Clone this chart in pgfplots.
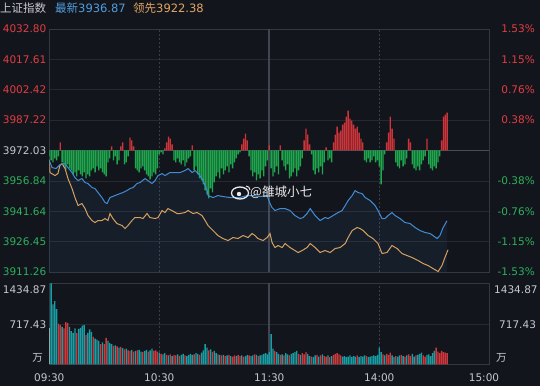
\documentclass[border=0pt]{standalone}
\usepackage{pgfplots}
\pgfplotsset{compat=1.18}
\usepackage{pgfplotstable}
\usepackage{fontspec}
\setmainfont{DejaVu Sans}
\newfontfamily\cjk{Noto Sans CJK SC}
\definecolor{bg}{RGB}{19,21,28}
\definecolor{gridc}{RGB}{38,41,50}
\definecolor{framec}{RGB}{52,56,66}
\definecolor{basec}{RGB}{72,76,86}
\definecolor{vdash}{RGB}{58,62,74}
\definecolor{vsolid}{RGB}{64,69,82}
\definecolor{txtred}{RGB}{226,62,66}
\definecolor{txtgreen}{RGB}{44,176,92}
\definecolor{txtgray}{RGB}{200,200,204}
\definecolor{lineblue}{RGB}{66,140,212}
\definecolor{lineorange}{RGB}{214,160,96}
\definecolor{barred}{RGB}{206,52,58}
\definecolor{bargreen}{RGB}{30,168,78}
\definecolor{volteal}{RGB}{24,158,164}
\definecolor{volred}{RGB}{208,56,60}
\definecolor{volwhite}{RGB}{200,225,228}
\definecolor{hdrblue}{RGB}{78,158,224}
\definecolor{hdrorange}{RGB}{226,166,100}
\newcommand\lab{\fontsize{10.5bp}{12bp}\selectfont}

\pgfplotstableread{
m p
0 3967.0
1.5 3963.5
3.7 3963.0
5.8 3965.0
8.6 3965.5
10.2 3963.5
12.4 3961.0
14.0 3958.5
15.7 3957.0
17.8 3958.0
19.5 3956.0
21.1 3955.5
23.3 3953.5
24.9 3953.0
26.6 3951.0
28.7 3948.5
30.4 3946.0
31.5 3945.5
33.1 3948.5
35.8 3949.5
38.6 3950.5
40.2 3951.0
42.4 3952.0
44.0 3953.0
45.7 3953.5
47.8 3955.5
49.5 3956.0
52.2 3958.0
53.8 3957.0
56.0 3955.5
57.7 3957.0
59.3 3959.5
61.5 3960.5
63.1 3959.5
65.8 3961.0
68.6 3961.0
71.3 3961.0
74.0 3962.0
75.7 3963.0
77.9 3961.0
79.5 3962.0
81.2 3960.5
83.3 3958.0
85.0 3954.5
86.1 3952.0
86.6 3949.5
89.3 3948.5
92.0 3949.5
94.7 3949.0
98.6 3948.5
104.0 3948.5
107.8 3949.5
111.1 3949.5
114.9 3949.0
118.8 3949.5
120.4 3945.5
121.5 3943.5
123.1 3942.0
125.9 3943.0
128.6 3943.0
131.3 3942.0
134.0 3939.5
136.8 3938.0
138.4 3938.5
140.6 3940.5
142.3 3943.0
145.0 3939.5
147.7 3937.0
150.4 3938.5
152.1 3938.0
154.8 3939.5
157.5 3941.0
159.7 3942.0
161.4 3944.5
163.0 3947.0
165.2 3949.5
166.8 3952.0
168.4 3951.0
170.6 3950.5
172.3 3948.5
175.0 3947.0
177.7 3944.5
179.3 3942.0
181.5 3938.0
183.1 3938.0
184.8 3939.5
186.9 3941.0
188.6 3939.5
191.3 3938.0
194.0 3936.0
196.8 3935.5
199.5 3933.5
202.2 3932.0
205.0 3931.0
207.7 3930.5
209.3 3929.5
211.5 3928.0
213.1 3929.5
214.8 3933.5
216.9 3936.87
}\bluetab

\pgfplotstableread{
m p
0 3967.5
0.4 3961.0
3.1 3959.5
4.7 3960.5
5.8 3964.5
6.9 3965.5
8.6 3963.0
10.2 3958.0
12.4 3953.0
14.0 3948.5
15.7 3944.5
17.8 3945.5
19.5 3943.0
21.1 3939.5
23.3 3937.0
24.9 3936.0
26.6 3937.0
28.7 3937.0
30.4 3938.0
32.0 3937.0
33.1 3940.5
34.7 3938.0
36.9 3935.5
39.7 3934.5
41.3 3933.0
42.9 3934.5
45.1 3937.0
46.7 3938.5
49.5 3938.5
51.1 3938.0
53.3 3940.5
54.9 3938.5
57.7 3938.0
59.3 3938.5
61.5 3942.0
63.1 3941.0
64.7 3943.0
66.9 3942.0
69.7 3940.5
71.3 3940.5
74.0 3941.0
75.7 3942.0
78.4 3940.5
80.6 3941.0
83.3 3939.5
85.0 3937.0
86.6 3934.5
89.3 3932.0
92.0 3929.5
94.7 3928.0
97.5 3927.0
100.2 3928.5
102.9 3928.0
105.7 3929.5
108.4 3928.5
110.6 3930.5
112.2 3929.5
113.8 3928.0
116.6 3927.0
118.8 3928.5
120.4 3930.5
121.5 3926.0
123.1 3923.5
124.8 3924.5
127.0 3923.5
128.6 3925.5
131.3 3923.5
134.0 3922.0
135.7 3921.0
137.9 3922.0
140.6 3923.5
142.3 3925.5
145.0 3923.5
147.7 3921.0
150.4 3922.0
153.2 3921.0
155.9 3923.0
158.6 3923.5
161.4 3925.5
163.0 3928.5
165.2 3932.0
167.9 3933.5
169.5 3933.0
171.2 3932.0
173.9 3929.5
176.6 3928.0
179.3 3925.5
181.5 3920.5
184.2 3921.0
186.9 3924.5
189.7 3923.0
192.4 3920.5
195.1 3919.5
197.9 3918.5
201.2 3917.0
203.9 3915.5
206.6 3914.5
209.3 3913.0
212.1 3911.5
214.2 3914.5
215.8 3918.5
217.5 3922.38
}\orangetab

\pgfplotstableread{
m v
0 -3
1 -5
2 -6
3 -4
4 -5
5 -3
6 4
7 -6
8 -8
9 -10
10 -7
11 -9
12 -10
13 -12
14 -11
15 -13
16 -10
17 -12
18 -13
19 -11
20 -14
21 -12
22 -13
23 -10
24 -9
25 -11
26 -8
27 -10
28 -9
29 -11
30 -12
31 -13
32 -6
33 -4
34 2
35 -5
36 -3
37 -7
38 -5
39 2
40 4
41 -7
42 -6
43 -3
44 6.5
45 5
46 2
47 -9
48 -10
49 -11
50 -9
51 -8
52 -10
53 -12
54 -13
55 -14.5
56 -13
57 -11
58 -12
59 -9
60 -2
61 -1
62 -2
63 1
64 4
65 7
66 6
67 3
68 -5
69 -6
70 -4
71 -6
72 -7
73 -5
74 -8
75 -6
76 -4
77 -3
78 2.5
79 -10
80 -8
81 -12
82 -14
83 -15
84 -17
85 -20
86 -22
87 -24
88 -19
89 -21
90 -16
91 -13
92 -11
93 -14
94 -9
95 -12
96 -10
97 -8
98 -11
99 -7
100 -9
101 -6
102 -4
103 -2
104 -1
105 3
106 6
107 8.5
108 5
109 -3
110 -10
111 -13
112 -11
113 -15
114 -12
115 -14
116 -10
117 -13
118 -8
119 -5
120 2.5
121 -9
122 -13
123 -11
124 -8
125 -12
126 2.5
127 -5
128 -8
129 -10
130 -7
131 -14
132 -13
133 -11
134 -9
135 -13
136 -10
137 -8
138 -4
139 5
140 11
141 8
142 3
143 -2
144 -10
145 -12
146 -9
147 -11
148 -8
149 -12
150 -6
151 1.5
152 -5
153 -4
154 -6
155 4
156 8
157 12
158 9
159 10
160 13
161 14
162 17
163 20
164 16
165 15
166 13
167 11
168 12
169 9
170 6
171 4
172 -5
173 -6
174 -4
175 -6
176 -5
177 -3
178 -6
179 -5
180 -8
181 -17
182 -10
183 -2
184 4
185 9
186 17
187 11
188 6
189 -6
190 -8
191 -9
192 -5
193 -8
194 -7
195 -4
196 6
197 4
198 -7
199 -9
200 -10
201 -8
202 -10
203 -7
204 -5
205 -3
206 6
207 -7
208 -9
209 -10
210 -8
211 -9
212 -6
213 -3
214 5
215 17
216 18
217 19
}\bartab

\pgfplotstableread{
m v c
0 640 2
1 1434.87 0
2 1065 0
3 1122 0
4 979 0
5 723 1
6 700 1
7 666 0
8 640 1
9 752 1
10 735 1
11 666 0
12 590 0
13 560 0
14 640 0
15 555 1
16 630 0
17 650 0
18 690 0
19 700 0
20 520 1
21 560 0
22 620 0
23 580 0
24 490 1
25 460 0
26 440 0
27 420 0
28 360 1
29 390 0
30 360 1
31 470 1
32 420 0
33 380 0
34 360 0
35 330 1
36 340 0
37 320 1
38 300 0
39 310 1
40 290 0
41 270 1
42 280 0
43 250 1
44 240 1
45 260 0
46 230 1
47 240 0
48 250 1
49 260 0
50 230 0
51 220 1
52 240 0
53 260 0
54 230 1
55 250 0
56 280 0
57 240 1
58 250 1
59 230 1
60 210 0
61 190 1
62 180 0
63 200 0
64 170 1
65 160 0
66 180 1
67 150 0
68 170 1
69 160 1
70 180 0
71 150 1
72 170 0
73 190 0
74 160 1
75 150 0
76 170 0
77 190 0
78 170 0
79 180 1
80 200 0
81 190 0
82 170 1
83 210 0
84 250 0
85 360 0
86 300 0
87 250 1
88 270 0
89 220 1
90 240 0
91 200 0
92 180 1
93 170 0
94 160 1
95 170 0
96 150 1
97 160 0
98 170 1
99 150 0
100 140 1
101 160 1
102 150 0
103 170 1
104 150 1
105 160 0
106 140 1
107 150 0
108 170 0
109 160 1
110 150 0
111 160 0
112 180 1
113 170 0
114 150 1
115 160 0
116 170 0
117 190 0
118 200 0
119 180 0
120 220 0
121 540 0
122 280 0
123 240 1
124 220 0
125 190 0
126 170 1
127 180 0
128 160 1
129 200 0
130 180 0
131 160 1
132 190 0
133 200 0
134 220 0
135 240 0
136 190 1
137 170 0
138 200 1
139 180 1
140 220 1
141 190 0
142 150 0
143 140 1
144 130 0
145 160 0
146 170 1
147 140 0
148 160 1
149 180 0
150 150 1
151 140 1
152 160 0
153 130 1
154 150 0
155 170 1
156 190 1
157 200 1
158 180 1
159 160 1
160 140 0
161 150 0
162 130 0
163 140 0
164 160 0
165 130 0
166 150 0
167 140 0
168 160 1
169 130 0
170 150 0
171 140 0
172 160 0
173 150 1
174 130 0
175 140 0
176 150 0
177 160 0
178 150 0
179 170 0
180 300 0
181 220 0
182 180 1
183 160 0
184 190 1
185 170 1
186 210 1
187 160 0
188 130 0
189 150 1
190 140 0
191 160 0
192 170 1
193 150 0
194 140 1
195 160 0
196 180 1
197 150 1
198 190 0
199 140 0
200 160 1
201 170 0
202 190 0
203 210 0
204 160 1
205 140 1
206 170 0
207 180 0
208 150 0
209 200 0
210 240 0
211 300 1
212 230 1
213 200 1
214 240 1
215 220 1
216 210 1
217 200 1
}\voltab

\begin{document}
\begin{tikzpicture}
\path[use as bounding box, fill=bg] (0bp,0bp) rectangle (540bp,386bp);

% ---------- top panel: grid + breadth bars ----------
\begin{axis}[at={(49.3bp,114bp)}, anchor=south west, width=440bp, height=243bp, scale only axis,
  xmin=0, xmax=240, ymin=-60.77, ymax=60.77,
  axis line style={draw=framec, line width=0.8bp},
  xtick=\empty,
  ytick={-60.77,-45.58,-30.38,-15.19,15.19,30.38,45.58,60.77},
  yticklabels={}, major tick length=0pt,
  ymajorgrids, grid style={draw=gridc, line width=0.7bp}]
\draw[vdash, line width=0.8bp, dash pattern=on 2bp off 2bp] (axis cs:60,-60.77) -- (axis cs:60,60.77);
\draw[vdash, line width=0.8bp, dash pattern=on 2bp off 2bp] (axis cs:180,-60.77) -- (axis cs:180,60.77);
\draw[vsolid, line width=1.8bp] (axis cs:120,-60.77) -- (axis cs:120,60.77);
\draw[basec, line width=1bp] (axis cs:0,0) -- (axis cs:240,0);
\addplot[ybar, bar shift=0pt, bar width=0.72, fill=bargreen, draw=none, restrict y to domain=-100:0] table[x=m,y=v]{\bartab};
\addplot[ybar, bar shift=0pt, bar width=0.72, fill=barred, draw=none, restrict y to domain=0:100] table[x=m,y=v]{\bartab};
\end{axis}

% ---------- top panel: price lines ----------
\begin{axis}[at={(49.3bp,114bp)}, anchor=south west, width=440bp, height=243bp, scale only axis,
  xmin=0, xmax=240, ymin=3911.26, ymax=4032.80, hide axis, clip=true]
\addplot[fill=lineblue, fill opacity=0.08, draw=none] table[x=m,y=p]{\bluetab} \closedcycle;
\addplot[lineorange, line width=1bp] table[x=m,y=p]{\orangetab};
\addplot[lineblue, line width=1bp] table[x=m,y=p]{\bluetab};
\end{axis}

% ---------- volume panel ----------
\begin{axis}[at={(49.3bp,21.5bp)}, anchor=south west, width=440bp, height=81bp, scale only axis,
  xmin=0, xmax=240, ymin=0, ymax=1434.87,
  axis line style={draw=framec, line width=0.8bp},
  xtick=\empty, ytick={0,717.43,1434.87}, yticklabels={}, major tick length=0pt,
  ymajorgrids, grid style={draw=gridc, line width=0.7bp}]
\draw[vdash, line width=0.8bp, dash pattern=on 2bp off 2bp] (axis cs:60,0) -- (axis cs:60,1434.87);
\draw[vdash, line width=0.8bp, dash pattern=on 2bp off 2bp] (axis cs:180,0) -- (axis cs:180,1434.87);
\draw[vsolid, line width=1.8bp] (axis cs:120,0) -- (axis cs:120,1434.87);
\addplot[ybar, bar shift=0pt, bar width=0.72, fill=volteal, draw=none, restrict expr to domain={\thisrow{c}}{0:0}] table[x=m,y=v]{\voltab};
\addplot[ybar, bar shift=0pt, bar width=0.72, fill=volred, draw=none, restrict expr to domain={\thisrow{c}}{1:1}] table[x=m,y=v]{\voltab};
\addplot[ybar, bar shift=0pt, bar width=0.72, fill=volwhite, draw=none, restrict expr to domain={\thisrow{c}}{2:2}] table[x=m,y=v]{\voltab};
\end{axis}

\begin{scope}[x=1bp,y=1bp]
% ---------- header ----------
\node[anchor=base west, inner sep=0pt, text=txtgray] at (0,373.5) {\fontsize{11.5bp}{13bp}\selectfont\cjk 上证指数};
\node[anchor=base west, inner sep=0pt, text=hdrblue] at (55,373.5) {\fontsize{11.5bp}{13bp}\selectfont{\cjk 最新}3936.87};
\node[anchor=base west, inner sep=0pt, text=hdrorange] at (133,373.5) {\fontsize{11.5bp}{13bp}\selectfont{\cjk 领先}3922.38};

% ---------- left price labels ----------
\begin{scope}[every node/.style={anchor=east, inner sep=0pt}]
\node[text=txtred] at (46.5,357) {\lab 4032.80};
\node[text=txtred] at (46.5,326.6) {\lab 4017.61};
\node[text=txtred] at (46.5,296.2) {\lab 4002.42};
\node[text=txtred] at (46.5,265.9) {\lab 3987.22};
\node[text=txtgray] at (46.5,235.5) {\lab 3972.03};
\node[text=txtgreen] at (46.5,205.1) {\lab 3956.84};
\node[text=txtgreen] at (46.5,174.8) {\lab 3941.64};
\node[text=txtgreen] at (46.5,144.4) {\lab 3926.45};
\node[text=txtgreen] at (46.5,114) {\lab 3911.26};
% right percent labels
\node[text=txtred] at (535,357) {\lab 1.53\%};
\node[text=txtred] at (535,326.6) {\lab 1.15\%};
\node[text=txtred] at (535,296.2) {\lab 0.76\%};
\node[text=txtred] at (535,265.9) {\lab 0.38\%};
\node[text=txtgreen] at (535,205.1) {\lab -0.38\%};
\node[text=txtgreen] at (535,174.8) {\lab -0.76\%};
\node[text=txtgreen] at (535,144.4) {\lab -1.15\%};
\node[text=txtgreen] at (535,114) {\lab -1.53\%};
% volume labels left
\node[text=txtgray] at (46.5,96) {\lab 1434.87};
\node[text=txtgray] at (46.5,61) {\lab 717.43};
\node[text=txtgray] at (43,28) {\lab\cjk 万};
\end{scope}
\begin{scope}[every node/.style={anchor=west, inner sep=0pt, text=txtgray}]
\node at (494,96) {\lab 1434.87};
\node at (499,61) {\lab 717.43};
\node at (496,28) {\lab\cjk 万};
\end{scope}

% ---------- time labels ----------
\begin{scope}[every node/.style={inner sep=0pt, text=txtgray}]
\node at (49.3,8) {\lab 09:30};
\node at (159.3,8) {\lab 10:30};
\node at (269.3,8) {\lab 11:30};
\node at (379.3,8) {\lab 14:00};
\node at (484,8) {\lab 15:00};
\end{scope}

% ---------- watermark ----------
\draw[white!92!black, line width=1.3bp] (240,193) ellipse (8.5 and 6);
\fill[white!92!black] (239,192) circle (2.2);
\draw[white!92!black, line width=1bp] (246,200) arc (90:0:4);
\node[anchor=west, inner sep=0pt, text=white!92!black] at (250,194) {\fontsize{12.5bp}{14bp}\selectfont\cjk @雒城小七};
\end{scope}
\end{tikzpicture}
\end{document}
